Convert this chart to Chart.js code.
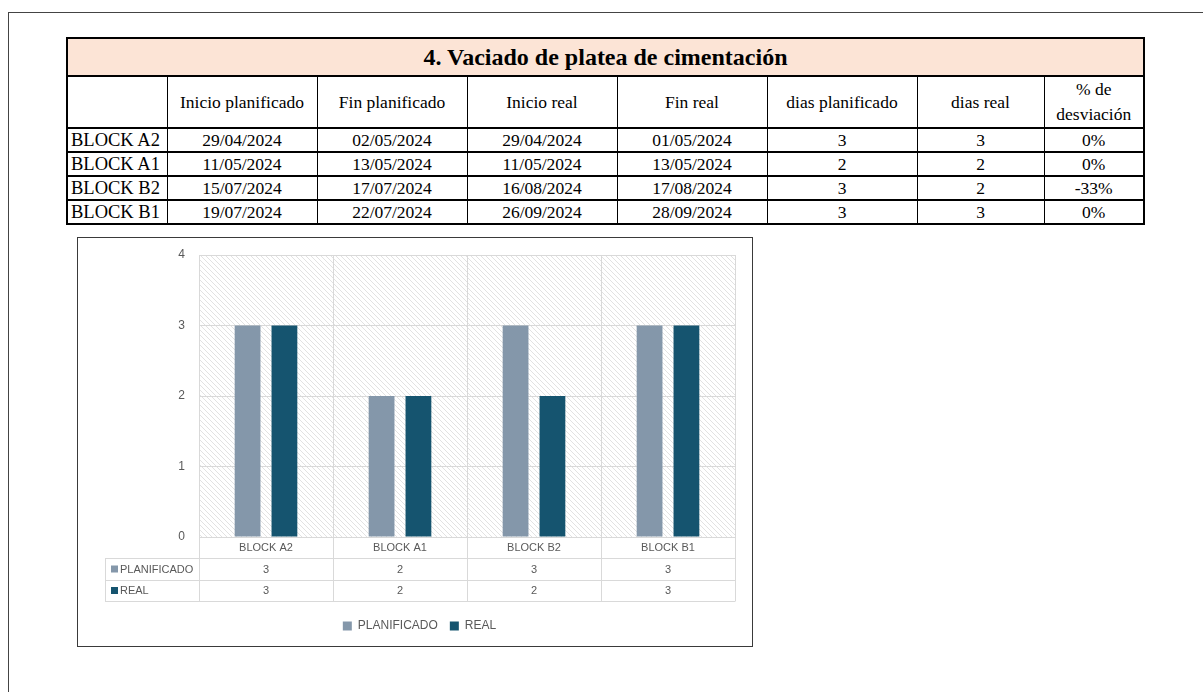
<!DOCTYPE html>
<html>
<head>
<meta charset="utf-8">
<script src="https://cdn.jsdelivr.net/npm/chart.js@4.4.1/dist/chart.umd.min.js"></script>
<style>
  html, body { margin: 0; padding: 0; background: #fff; overflow: hidden; }
  body { width: 1203px; height: 692px; position: relative; }
  #marco { position: absolute; left: 8px; top: 12px; width: 1300px; height: 800px;
           border-left: 1px solid #444; border-top: 1px solid #444; }
  #tabla { position: absolute; left: 66px; top: 37px; width: 1077px; border-collapse: collapse;
           table-layout: fixed; font-family: "Liberation Serif", "Times New Roman", serif;
           color: #000; border: 2px solid #000; }
  #tabla td { border: 1px solid #000; padding: 0; text-align: center; vertical-align: middle;
              font-size: 17.5px; white-space: nowrap; }
  #tabla tr.titulo td { background: #fce4d6; font-weight: bold; font-size: 24px; height: 36px;
                        border-bottom: 2px solid #000; }
  #tabla tr.cabecera td { height: 47px; }
  #tabla tr.cabecera td.desv { line-height: 25px; }
  #tabla tr.fila td { height: 22px; border-top: 2px solid #000; }
  #tabla tr.fila td:first-child { text-align: left; padding-left: 3px; font-size: 18.5px; }
  #chartBox { position: absolute; left: 77px; top: 237px; width: 674px; height: 408px;
              border: 1px solid #3a3a3a; }
</style>
</head>
<body>
<div id="marco"></div>
<table id="tabla">
  <colgroup>
    <col style="width:100px"><col style="width:150px"><col style="width:150px"><col style="width:150px">
    <col style="width:150px"><col style="width:150px"><col style="width:127px"><col style="width:100px">
  </colgroup>
  <tbody id="cuerpo">
    <tr class="titulo"><td colspan="8">4. Vaciado de platea de cimentación</td></tr>
    <tr class="cabecera">
      <td></td><td>Inicio planificado</td><td>Fin planificado</td><td>Inicio real</td>
      <td>Fin real</td><td>dias planificado</td><td>dias real</td><td class="desv">% de<br>desviación</td>
    </tr>
  </tbody>
</table>
<div id="chartBox"><canvas id="grafico"></canvas></div>

<script>
// datos de la tabla
const bloques = ['BLOCK A2', 'BLOCK A1', 'BLOCK B2', 'BLOCK B1'];
const inicioPlan = ['29/04/2024', '11/05/2024', '15/07/2024', '19/07/2024'];
const finPlan = ['02/05/2024', '13/05/2024', '17/07/2024', '22/07/2024'];
const inicioReal = ['29/04/2024', '11/05/2024', '16/08/2024', '26/09/2024'];
const finReal = ['01/05/2024', '13/05/2024', '17/08/2024', '28/09/2024'];
const desviacion = ['0%', '0%', '-33%', '0%'];

// datos del grafico
const categorias = ['BLOCK A2', 'BLOCK A1', 'BLOCK B2', 'BLOCK B1'];
const planificado = [3, 2, 3, 3];
const real = [3, 2, 2, 3];
const nombresSeries = ['PLANIFICADO', 'REAL'];
const coloresSeries = ['#8497aa', '#15546f'];

const fuente = '"Liberation Sans", Arial, sans-serif';
const gris = '#595959';
const lineaGris = '#d9d9d9';

// --- TABLA ---
const cuerpo = document.getElementById('cuerpo');
bloques.forEach((b, i) => {
    const tr = document.createElement('tr');
    tr.className = 'fila';
    const celdas = [b, inicioPlan[i], finPlan[i], inicioReal[i], finReal[i], planificado[i], real[i], desviacion[i]];
    tr.innerHTML = celdas.map(c => `<td>${c}</td>`).join('');
    cuerpo.appendChild(tr);
});

// --- PLUGINS ---
const fondoRayado = {
    id: 'fondoRayado',
    beforeDraw(chart) {
        const { ctx, chartArea: a } = chart;
        const tile = document.createElement('canvas');
        tile.width = 5; tile.height = 5;
        const t = tile.getContext('2d');
        t.strokeStyle = '#e2e2e2';
        t.lineWidth = 1;
        t.beginPath();
        t.moveTo(-1, -1); t.lineTo(6, 6);
        t.moveTo(-1, 4); t.lineTo(1, 6);
        t.moveTo(4, -1); t.lineTo(6, 1);
        t.stroke();
        ctx.save();
        ctx.fillStyle = ctx.createPattern(tile, 'repeat');
        ctx.fillRect(a.left, a.top, a.right - a.left, a.bottom - a.top);
        ctx.restore();
    }
};

// tabla de datos bajo el eje x
const tablaDatos = {
    id: 'tablaDatos',
    afterDraw(chart) {
        const { ctx, chartArea: a } = chart;
        const x = chart.scales.x;
        const paso = x.getPixelForValue(1) - x.getPixelForValue(0);
        const bordes = categorias.map((c, i) => x.getPixelForValue(i) - paso / 2);
        bordes.push(x.getPixelForValue(categorias.length - 1) + paso / 2);
        const filas = [a.bottom, a.bottom + 21, a.bottom + 43, a.bottom + 64];
        const izq = 27;

        ctx.save();
        ctx.strokeStyle = lineaGris;
        ctx.lineWidth = 1;
        ctx.beginPath();
        for (let r = 1; r < filas.length; r++) {
            const y = Math.round(filas[r]) + 0.5;
            ctx.moveTo(izq, y); ctx.lineTo(a.right, y);
        }
        bordes.forEach(bx => {
            const xx = Math.round(bx) + 0.5;
            ctx.moveTo(xx, a.bottom); ctx.lineTo(xx, filas[3] + 0.5);
        });
        ctx.moveTo(izq + 0.5, filas[1]); ctx.lineTo(izq + 0.5, filas[3] + 0.5);
        ctx.stroke();

        ctx.font = `11px ${fuente}`;
        ctx.textBaseline = 'middle';
        chart.data.datasets.forEach((ds, r) => {
            const cy = (filas[r + 1] + filas[r + 2]) / 2 + 0.5;
            ctx.fillStyle = ds.backgroundColor;
            ctx.fillRect(izq + 6, cy - 4, 7, 7);
            ctx.fillStyle = gris;
            ctx.textAlign = 'left';
            ctx.fillText(ds.label, izq + 15, cy);
            ctx.textAlign = 'center';
            ds.data.forEach((v, i) => ctx.fillText(String(v), x.getPixelForValue(i), cy));
        });
        ctx.restore();
    }
};

// --- GRAFICO ---
new Chart(document.getElementById('grafico'), {
    type: 'bar',
    data: {
        labels: categorias,
        datasets: [
            { label: nombresSeries[0], data: planificado, backgroundColor: coloresSeries[0] },
            { label: nombresSeries[1], data: real, backgroundColor: coloresSeries[1] }
        ]
    },
    options: {
        responsive: true,
        maintainAspectRatio: false,
        animation: false,
        datasets: { bar: { barPercentage: 0.7, categoryPercentage: 0.55 } },
        layout: { padding: { top: 17, right: 17, bottom: 4, left: 26 } },
        scales: {
            x: {
                grid: { color: lineaGris, drawTicks: false, offset: true },
                border: { display: false },
                ticks: { color: gris, font: { size: 11, family: fuente }, padding: 4 },
                afterFit(s) { s.height = 71; }
            },
            y: {
                min: 0, max: 4,
                grid: { color: lineaGris, drawTicks: false },
                border: { display: false },
                ticks: { stepSize: 1, color: gris, font: { size: 12, family: fuente }, padding: 14 },
                afterFit(s) { s.width = 95; s.paddingTop = 0; s.paddingBottom = 0; }
            }
        },
        plugins: {
            legend: {
                position: 'bottom',
                labels: { boxWidth: 9, boxHeight: 9, padding: 12, color: gris, font: { size: 12, family: fuente } }
            },
            tooltip: { enabled: false }
        }
    },
    plugins: [fondoRayado, tablaDatos]
});
</script>
</body>
</html>
